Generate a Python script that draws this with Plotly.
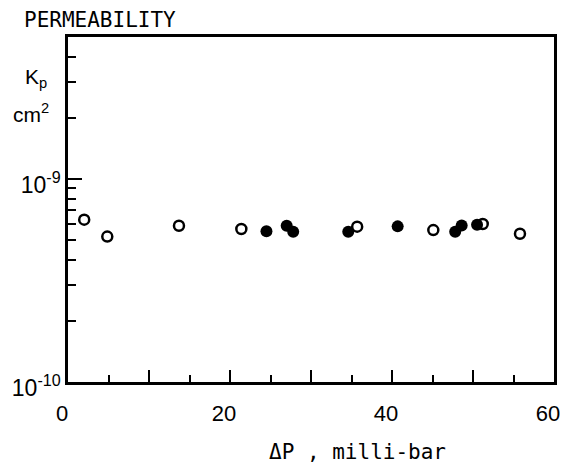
import plotly.graph_objects as go

# ---- data ----
open_dp = [2.0, 4.85, 13.7, 21.4, 35.7, 45.1, 51.2, 55.8]
open_kp = [6.3e-10, 5.2e-10, 5.88e-10, 5.67e-10, 5.82e-10, 5.6e-10, 6.0e-10, 5.37e-10]
filled_dp = [24.5, 27.0, 27.8, 34.6, 40.7, 47.8, 48.6, 50.5]
filled_kp = [5.52e-10, 5.88e-10, 5.5e-10, 5.5e-10, 5.84e-10, 5.5e-10, 5.9e-10, 5.95e-10]

x_tickvals = [0, 10, 20, 30, 40, 50, 60]
x_ticktext = ["0", "", "20", "", "40", "", "60"]
x_minorvals = [5, 15, 25, 35, 45, 55]
y_tickvals = [1e-10, 1e-9]
y_ticktext = ["10<sup>-10</sup>", "10<sup>-9</sup>"]
y_minorvals = [2e-10, 3e-10, 4e-10, 5e-10, 6e-10, 7e-10, 8e-10, 9e-10,
               2e-9, 3e-9, 4e-9]

FONT = "Liberation Sans"

fig = go.Figure()
fig.add_trace(go.Scatter(
    x=open_dp, y=open_kp, mode="markers",
    marker=dict(symbol="circle-open", size=10, color="black", line=dict(width=2.5, color="black")),
    showlegend=False, hoverinfo="skip"))
fig.add_trace(go.Scatter(
    x=filled_dp, y=filled_kp, mode="markers",
    marker=dict(symbol="circle", size=12, color="black"),
    showlegend=False, hoverinfo="skip"))

fig.update_layout(
    width=565, height=471,
    margin=dict(l=68, r=11, t=37, b=89),
    paper_bgcolor="white", plot_bgcolor="white",
    font=dict(family=FONT, color="black", size=21),
    xaxis=dict(
        range=[0, 60], showgrid=False, zeroline=False, automargin=False,
        showline=True, linecolor="black", linewidth=2.5, mirror=True,
        tickmode="array", tickvals=x_tickvals, ticktext=x_ticktext,
        ticks="inside", ticklen=12, tickwidth=2, tickcolor="black",
        ticklabelstandoff=10, ticklabelshift=-6,
        tickfont=dict(family=FONT, size=22),
        minor=dict(tickmode="array", tickvals=x_minorvals,
                   ticks="inside", ticklen=7, tickwidth=2, tickcolor="black"),
    ),
    yaxis=dict(
        type="log", range=[-10, -8.30103], showgrid=False, zeroline=False,
        automargin=False,
        showline=True, linecolor="black", linewidth=2.5, mirror=True,
        tickmode="array", tickvals=y_tickvals, ticktext=y_ticktext,
        ticks="inside", ticklen=14, tickwidth=2, tickcolor="black",
        ticklabelstandoff=0, ticklabelshift=6,
        tickfont=dict(family=FONT, size=23),
        minor=dict(tickmode="array", tickvals=y_minorvals,
                   ticks="inside", ticklen=8, tickwidth=2, tickcolor="black"),
    ),
)

fig.add_annotation(text="PERMEABILITY", xref="paper", yref="paper",
                   x=-0.095, y=1.0, xanchor="left", yanchor="middle", yshift=17,
                   showarrow=False, font=dict(family="DejaVu Sans Mono", size=21))
fig.add_annotation(text="K<sub>p</sub>", xref="paper", yref="paper",
                   x=-0.093, y=0.88, xanchor="left", yanchor="middle",
                   showarrow=False, font=dict(family=FONT, size=21))
fig.add_annotation(text="cm<sup>2</sup>", xref="paper", yref="paper",
                   x=-0.117, y=0.78, xanchor="left", yanchor="middle",
                   showarrow=False, font=dict(family=FONT, size=21))
fig.add_annotation(text="\u0394P , milli-bar", xref="paper", yref="paper",
                   x=0.595, y=0, xanchor="center", yanchor="middle", yshift=-70,
                   showarrow=False, font=dict(family="DejaVu Sans Mono", size=21))

# remove the browser's default 8px body margin so the figure sits at the page origin
fig.write_html("out.html", config={"displayModeBar": False},
               post_script="document.body.style.margin='0';")
